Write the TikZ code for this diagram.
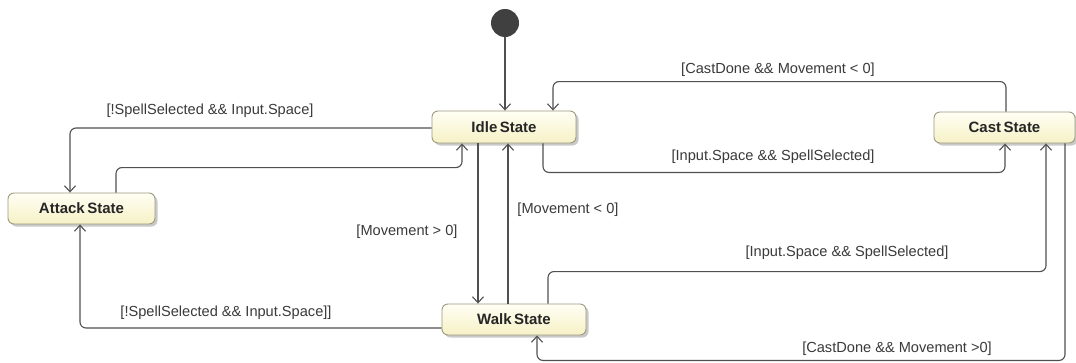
\documentclass[tikz,border=0pt]{standalone}
\usepackage{fontspec}
\setmainfont{Liberation Sans}
\usetikzlibrary{arrows.meta,shadows}
\definecolor{boxtop}{HTML}{FFFFF4}
\definecolor{boxbot}{HTML}{F6F1C6}
\definecolor{boxedge}{HTML}{9E9A80}
\definecolor{wire}{HTML}{505050}
\definecolor{guard}{HTML}{3A3A3A}
\definecolor{dot}{HTML}{404040}
\tikzset{
  state/.style={draw=boxedge, line width=0.9pt, rounded corners=6pt,
    top color=boxtop, bottom color=boxbot,
    drop shadow={shadow xshift=2.5pt, shadow yshift=-2.5pt, fill=black!35, opacity=0.6},
    minimum height=31pt, inner sep=0pt,
    font=\fontsize{15}{18}\selectfont\bfseries, text=black!85},
  initial/.style={circle, fill=dot, minimum size=28pt, inner sep=0pt},
  tr/.style={draw=wire, line width=1.1pt, rounded corners=6pt,
    -{Straight Barb[length=6pt,width=11pt,line width=1.1pt]}},
  guardlbl/.style={font=\fontsize{14.6}{17}\selectfont, text=guard, inner sep=0pt}
}
\begin{document}
\begin{tikzpicture}[x=1pt,y=-1pt]
  \useasboundingbox[fill=white] (0,0) rectangle (1076,362);

  % states
  \node[initial] (init) at (505,23) {};
  \node[state, minimum width=144pt, minimum height=32pt] (idle) at (504,127) {Idle\,State};
  \node[state, minimum width=147pt] (attack) at (81.5,208.5) {Attack\,State};
  \node[state, minimum width=144pt] (walk) at (514,319.5) {Walk\,State};
  \node[state, minimum width=141pt] (cast) at (1004.5,127.5) {Cast\,State};

  % transitions
  \draw[tr] (init) -- (init |- idle.north);
  \draw[tr] ([xshift=1.5pt]cast.north) -- ++(0,-30) -| ([xshift=49pt]idle.north);
  \draw[tr] ([xshift=39pt]idle.south) -- ++(0,29) -| ([xshift=0.5pt]cast.south);
  \draw[tr] ([yshift=-1pt]idle.west) -| ([xshift=-11.5pt]attack.north);
  \draw[tr] ([xshift=34.5pt]attack.north) -- ++(0,-25) -| ([xshift=-42pt]idle.south);
  \draw[tr] ([xshift=-26pt]idle.south) -- ([xshift=-36pt]walk.north);
  \draw[tr] ([xshift=-6pt]walk.north) -- ([xshift=4pt]idle.south);
  \draw[tr] ([xshift=34pt]walk.north) -- ++(0,-32) -| ([xshift=41.5pt]cast.south);
  \draw[tr] ([xshift=60.5pt]cast.south) -- ++(0,217) -| ([xshift=23pt]walk.south);
  \draw[tr] ([yshift=-8.5pt]walk.west) -| ([xshift=-1.5pt]attack.south);

  % guards
  \node[guardlbl] (g1) at (778,70) {[CastDone \&\& Movement < 0]};
  \node[guardlbl] (g2) at (773,157) {[Input.Space \&\& SpellSelected]};
  \node[guardlbl] (g3) at (210,111) {[!SpellSelected \&\& Input.Space]};
  \node[guardlbl] (g4) at (407,232) {[Movement > 0]};
  \node[guardlbl] (g5) at (568,210) {[Movement < 0]};
  \node[guardlbl] (g6) at (847,253) {[Input.Space \&\& SpellSelected]};
  \node[guardlbl] (g7) at (897,349) {[CastDone \&\& Movement >0]};
  \node[guardlbl] (g8) at (226,313) {[!SpellSelected \&\& Input.Space]]};
\end{tikzpicture}
\end{document}
